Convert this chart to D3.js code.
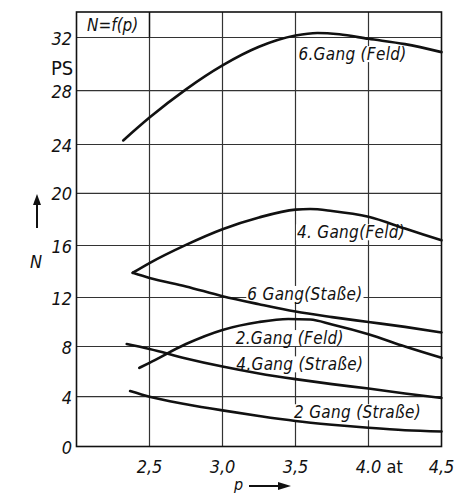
<!DOCTYPE html>
<html><head><meta charset="utf-8">
<script src="https://cdn.jsdelivr.net/npm/d3@7/dist/d3.min.js"></script>
<style>
html,body{margin:0;padding:0;background:#fff;}
svg{display:block;}
text{font-family:"DejaVu Sans Condensed","DejaVu Sans",sans-serif;fill:#111;}
</style></head>
<body>
<script>
// ---- data ----
const xTicks = [2.5, 3.0, 3.5, 4.0, 4.5];
const xTickLabels = ["2,5", "3,0", "3,5", "4.0", "4,5"];
const yTicks = [0, 4, 8, 12, 16, 20, 24, 28, 32];
const yTickLabels = ["0", "4", "8", "12", "16", "20", "24", "28", "32"];

const gang6Feld = [[2.32,24.3],[2.5,26.0],[2.75,28.1],[3.0,29.9],[3.25,31.3],[3.5,32.15],[3.65,32.35],[3.8,32.25],[4.0,31.9],[4.25,31.5],[4.5,30.9]];
const gang4Feld = [[2.385,13.9],[2.5,14.65],[2.75,16.05],[3.0,17.25],[3.25,18.15],[3.5,18.75],[3.6,18.8],[3.75,18.65],[4.0,18.2],[4.25,17.3],[4.5,16.4]];
const gang6Strasse = [[2.385,13.9],[2.5,13.5],[2.75,12.85],[3.0,12.1],[3.25,11.45],[3.5,10.85],[3.75,10.4],[4.0,10.0],[4.25,9.6],[4.5,9.15]];
const gang2Feld = [[2.43,6.3],[2.5,6.7],[2.75,8.2],[3.0,9.35],[3.25,10.0],[3.45,10.25],[3.6,10.2],[3.75,9.8],[4.0,9.0],[4.25,8.0],[4.5,7.1]];
const gang4Strasse = [[2.344,8.2],[2.5,7.8],[2.75,7.05],[3.0,6.4],[3.25,5.85],[3.5,5.4],[3.75,5.0],[4.0,4.65],[4.25,4.25],[4.5,3.9]];
const gang2Strasse = [[2.367,4.45],[2.5,4.0],[2.75,3.4],[3.0,2.9],[3.25,2.45],[3.5,2.05],[3.75,1.75],[4.0,1.5],[4.25,1.3],[4.5,1.2]];

const seriesNames = ["6.Gang (Feld)", "4. Gang(Feld)", "6 Gang(Staße)", "2.Gang (Feld)", "4.Gang (Straße)", "2 Gang (Straße)"];
const seriesData = [gang6Feld, gang4Feld, gang6Strasse, gang2Feld, gang4Strasse, gang2Strasse];
// label anchor positions in data units (x start, y baseline)
const labelX = [3.52, 3.51, 3.17, 3.09, 3.095, 3.49];
const labelY = [30.3, 16.55, 11.8, 8.2, 6.1, 2.27];

// ---- drawing ----
const W = 464, H = 494;
const svg = d3.select("body").append("svg").attr("width", W).attr("height", H);
const x = d3.scaleLinear().domain([2.0, 4.5]).range([76.5, 441.5]);
// hand-drawn grid is slightly uneven: polylinear scale through the grid lines
const y = d3.scaleLinear().domain([0, 4, 8, 12, 16, 20, 24, 28, 32, 34])
  .range([446.5, 396.7, 346.5, 297.5, 245.5, 193.3, 144.5, 90.7, 37.5, 12]);

const g = svg.append("g");
// grid
g.selectAll(".vg").data(xTicks.slice(0, 4)).enter().append("line")
  .attr("x1", d => x(d)).attr("x2", d => x(d)).attr("y1", y(0)).attr("y2", y(34))
  .attr("stroke", "#333").attr("stroke-width", 1.2);
g.selectAll(".hg").data(yTicks.slice(1)).enter().append("line")
  .attr("x1", x(2)).attr("x2", x(4.5)).attr("y1", d => y(d)).attr("y2", d => y(d))
  .attr("stroke", "#333").attr("stroke-width", 1.2);

// curve labels (background boxes hide grid lines behind them)
const labels = g.append("g").selectAll("text").data(seriesNames).enter().append("text")
  .attr("x", (d, i) => x(labelX[i])).attr("y", (d, i) => y(labelY[i]))
  .attr("font-size", 17).attr("letter-spacing", 0.3).style("font-style", "italic").text(d => d);
labels.each(function () {
  const b = this.getBBox();
  g.insert("rect", "g").attr("x", b.x - 1).attr("y", b.y + 2).attr("width", b.width + 2).attr("height", b.height - 4)
    .attr("fill", "#fff");
});

// frame
g.append("rect").attr("x", x(2)).attr("y", y(34)).attr("width", x(4.5) - x(2)).attr("height", y(0) - y(34))
  .attr("fill", "none").attr("stroke", "#111").attr("stroke-width", 1.6);

// curves
const line = d3.line().x(d => x(d[0])).y(d => y(d[1])).curve(d3.curveMonotoneX);
g.selectAll(".curve").data(seriesData).enter().append("path")
  .attr("d", d => line(d)).attr("fill", "none").attr("stroke", "#111").attr("stroke-width", 2.6)
  .attr("stroke-linejoin", "round").attr("stroke-linecap", "round");

// y tick labels
g.selectAll(".yt").data(yTicks).enter().append("text")
  .attr("x", 72).attr("y", d => y(d) + 7).attr("text-anchor", "end")
  .attr("font-size", 18).style("font-style", "italic").text((d, i) => yTickLabels[i]);
// x tick labels
g.selectAll(".xt").data(xTicks).enter().append("text")
  .attr("x", d => x(d)).attr("y", 473).attr("text-anchor", "middle")
  .attr("font-size", 18).style("font-style", "italic").text((d, i) => xTickLabels[i]);
g.append("text").attr("x", x(4.0) + 18).attr("y", 473).attr("font-size", 18).text("at");

// title box
g.append("line").attr("x1", x(2.5)).attr("x2", x(2.5)).attr("y1", y(34)).attr("y2", y(32)).attr("stroke", "#111").attr("stroke-width", 1.4);
g.append("text").attr("x", 87).attr("y", 31).attr("font-size", 17).style("font-style", "italic").text("N=f(p)");

// axis names
g.append("text").attr("x", 51).attr("y", 75).attr("font-size", 20).text("PS");
g.append("text").attr("x", 30).attr("y", 268).attr("font-size", 18).style("font-style", "italic").text("N");
g.append("line").attr("x1", 37).attr("x2", 37).attr("y1", 228).attr("y2", 203).attr("stroke", "#111").attr("stroke-width", 2);
g.append("path").attr("d", "M33,205 L37,194 L41,205 Z").attr("fill", "#111");

g.append("text").attr("x", 234).attr("y", 490).attr("font-size", 16).style("font-style", "italic").text("p");
g.append("line").attr("x1", 249).attr("x2", 280).attr("y1", 486).attr("y2", 486).attr("stroke", "#111").attr("stroke-width", 2);
g.append("path").attr("d", "M278,482 L291,486 L278,490 Z").attr("fill", "#111");
</script>
</body></html>
